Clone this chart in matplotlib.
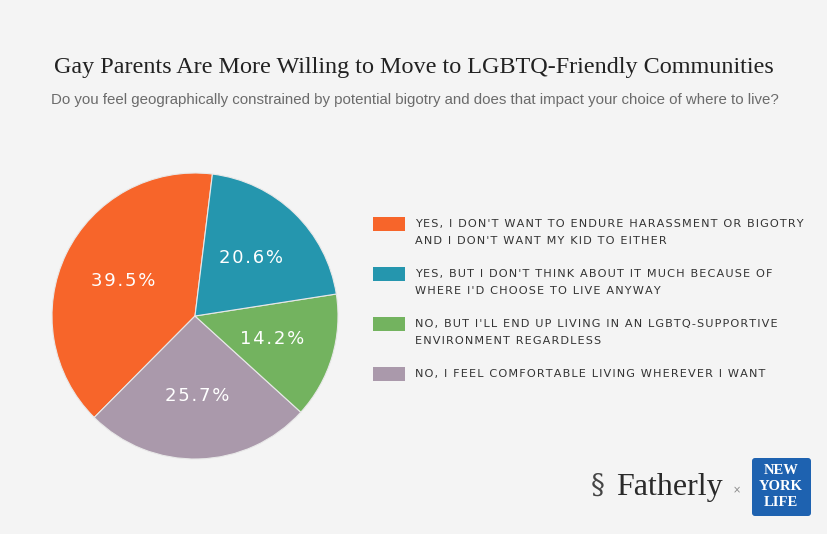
import matplotlib.pyplot as plt
from matplotlib.patches import Rectangle, FancyBboxPatch

# pie data, drawn counterclockwise from the top
slice_names = ['yes_bigotry', 'no_anywhere', 'no_supportive', 'yes_not_much']
slice_values = [39.5, 25.7, 14.2, 20.6]
slice_colors = ['#F7652A', '#AA99AB', '#73B35F', '#2596AE']

# legend entries, in the order they appear on the right
legend_lines = [
    ["YES, I DON'T WANT TO ENDURE HARASSMENT OR BIGOTRY", "AND I DON'T WANT MY KID TO EITHER"],
    ["YES, BUT I DON'T THINK ABOUT IT MUCH BECAUSE OF", "WHERE I'D CHOOSE TO LIVE ANYWAY"],
    ["NO, BUT I'LL END UP LIVING IN AN LGBTQ-SUPPORTIVE", "ENVIRONMENT REGARDLESS"],
    ["NO, I FEEL COMFORTABLE LIVING WHEREVER I WANT"],
]
legend_colors = ['#F7652A', '#2596AE', '#73B35F', '#AA99AB']

title = 'Gay Parents Are More Willing to Move to LGBTQ-Friendly Communities'
subtitle = ('Do you feel geographically constrained by potential bigotry and does '
            'that impact your choice of where to live?')

BG = '#F4F4F4'
W, H = 828, 534


def spaced(s, gap='\u200a'):
    # fake letter spacing with hair spaces
    return gap.join(s)


def fx(px):
    return px / W


def fy(py):
    return 1 - py / H


fig = plt.figure(figsize=(W / 100, H / 100), dpi=100, facecolor=BG)

# pie
cx, cy, r = 195, 316, 143
ax = fig.add_axes([fx(cx - r), fy(cy + r), (2 * r) / W, (2 * r) / H])
ax.set_facecolor(BG)
wedges, texts, autotexts = ax.pie(
    slice_values, colors=slice_colors, startangle=83, counterclock=True,
    autopct=lambda p: spaced('%.1f%%' % p), pctdistance=0.56,
    wedgeprops=dict(edgecolor='#E8E8E8', linewidth=0.8),
    textprops=dict(color='white', fontsize=13, family='DejaVu Sans',
                   fontweight='medium'))
ax.set_xlim(-1, 1)
ax.set_ylim(-1, 1)
ax.set_aspect('equal')
ax.axis('off')

# titles
fig.text(fx(414), fy(67), title, ha='center', va='center',
         family='Liberation Serif', fontsize=17.4, color='#222222')
fig.text(fx(415), fy(100), subtitle, ha='center', va='center',
         family='Liberation Sans', fontsize=10.8, color='#6B6B6B')

# legend
ov = fig.add_axes([0, 0, 1, 1], facecolor='none')
ov.set_xlim(0, W)
ov.set_ylim(H, 0)
ov.axis('off')
for i, (lines, col) in enumerate(zip(legend_lines, legend_colors)):
    y0 = 224 + i * 50
    ov.add_patch(Rectangle((373, y0 - 7), 32, 14, facecolor=col, edgecolor='none'))
    for j, line in enumerate(lines):
        ov.text(415, y0 + j * 17, spaced(line), ha='left', va='center',
                family='DejaVu Sans', fontsize=8.1, color='#333333')

# logos
ov.text(616, 488, 'Fatherly', ha='left', va='center', family='Liberation Serif',
        fontsize=23, color='#2A2A2A')
ov.text(598, 486, '\u00a7', ha='center', va='center', family='DejaVu Serif',
        fontsize=20, color='#444444')
ov.text(737, 490, '\u00d7', ha='center', va='center', fontsize=7, color='#888888')
ov.add_patch(FancyBboxPatch((752, 458), 59, 58, boxstyle='round,pad=0,rounding_size=3',
                            facecolor='#1E62B0', edgecolor='none'))
for k, word in enumerate(['NEW', 'YORK', 'LIFE']):
    ov.text(781, 471 + k * 16, word, ha='center', va='center',
            family='Liberation Serif', fontsize=10.5, color='white',
            fontweight='bold')

fig.savefig('out.png', dpi=100, facecolor=BG)
